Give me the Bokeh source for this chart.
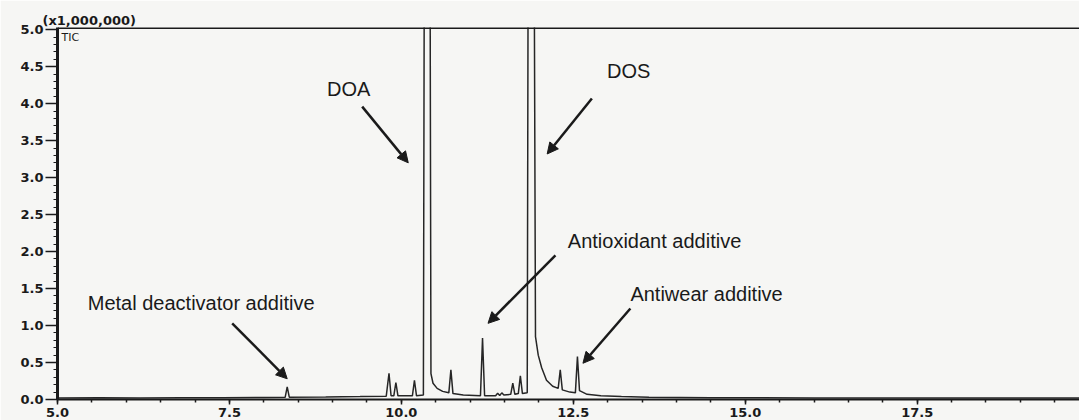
from bokeh.plotting import figure
from bokeh.models import FixedTicker, PrintfTickFormatter, Arrow, NormalHead, Label, Span
from bokeh.embed import file_html
from bokeh.resources import INLINE

# ---- data ----
time_min = [5.00, 5.60, 6.20, 6.80, 7.40, 8.00, 8.31, 8.34, 8.37, 8.90, 9.40, 9.78, 9.82, 9.85,
            9.89, 9.92, 9.95, 10.16, 10.19, 10.22, 10.32, 10.34, 10.41, 10.43, 10.46, 10.52,
            10.60, 10.69, 10.72, 10.75, 10.90, 11.15, 11.18, 11.21, 11.37, 11.40, 11.43, 11.46,
            11.49, 11.59, 11.62, 11.65, 11.70, 11.73, 11.76, 11.83, 11.85, 11.92, 11.95, 11.99,
            12.04, 12.11, 12.20, 12.28, 12.31, 12.34, 12.45, 12.53, 12.56, 12.59, 12.70, 12.90,
            13.20, 13.60, 14.50, 16.00, 18.00, 19.90]
tic_millions = [0.020, 0.022, 0.020, 0.024, 0.022, 0.028, 0.030, 0.17, 0.032, 0.035, 0.040, 0.045,
                0.355, 0.05, 0.05, 0.23, 0.05, 0.05, 0.26, 0.05, 0.06, 9.0, 9.0, 0.35, 0.22, 0.15,
                0.11, 0.09, 0.40, 0.08, 0.06, 0.05, 0.83, 0.05, 0.05, 0.085, 0.055, 0.09, 0.06,
                0.07, 0.22, 0.07, 0.08, 0.32, 0.08, 0.09, 9.0, 9.0, 0.85, 0.60, 0.43, 0.26, 0.18,
                0.15, 0.40, 0.13, 0.10, 0.09, 0.58, 0.12, 0.07, 0.05, 0.04, 0.03, 0.025, 0.02,
                0.02, 0.02]

x_ticks = [5.0, 7.5, 10.0, 12.5, 15.0, 17.5]
y_ticks = [0.0, 0.5, 1.0, 1.5, 2.0, 2.5, 3.0, 3.5, 4.0, 4.5, 5.0]

ann_text = ["Metal deactivator  additive", "DOA", "DOS", "Antioxidant additive", "Antiwear additive"]

# annotation placement (data units)
ann_text_x = [5.44, 8.92, 12.99, 12.42, 13.33]
ann_text_y = [1.30, 4.20, 4.44, 2.14, 1.42]
arrow_x0 = [7.54, 9.43, 12.77, 12.24, 13.33]
arrow_y0 = [1.03, 3.96, 4.07, 1.95, 1.23]
arrow_x1 = [8.34, 10.10, 12.12, 11.26, 12.64]
arrow_y1 = [0.28, 3.20, 3.32, 1.03, 0.49]

BG = "#f6f6f4"
INK = "#1a1a1a"

p = figure(width=1079, height=420, x_range=(5.0, 19.86), y_range=(0.0, 5.03),
           output_backend="svg", toolbar_location=None,
           min_border_left=57, min_border_top=27, min_border_right=0, min_border_bottom=21,
           background_fill_color=BG, border_fill_color=BG)
p.outline_line_color = None
p.grid.visible = False

p.title.text = "(x1,000,000)"
p.title.align = "left"
p.title.offset = -15
p.title.standoff = 0
p.title.text_font = "DejaVu Sans"
p.title.text_font_style = "bold"
p.title.text_font_size = "13px"
p.title.text_color = INK

p.line(time_min, tic_millions, line_color="#262626", line_width=1.5)

top = Span(location=5.03, dimension="width", line_color=INK, line_width=3)
p.add_layout(top)

# axes
for ax in (p.xaxis[0], p.yaxis[0]):
    ax.axis_line_color = INK
    ax.major_tick_line_color = INK
    ax.minor_tick_line_color = INK
    ax.major_label_text_font = "DejaVu Sans"
    ax.major_label_text_font_style = "bold"
    ax.major_label_text_font_size = "13px"
    ax.major_label_text_color = INK
    ax.major_tick_in = 0
    ax.minor_tick_in = 0

p.xaxis.ticker = FixedTicker(ticks=x_ticks, minor_ticks=[5.0 + 0.5 * i for i in range(31)])
p.xaxis.formatter = PrintfTickFormatter(format="%.1f")
p.xaxis.axis_line_width = 2
p.xaxis.major_tick_out = 5
p.xaxis.minor_tick_out = 3
p.xaxis.major_tick_line_width = 1.5
p.xaxis.minor_tick_line_width = 1.5
p.xaxis.major_label_standoff = 3

p.yaxis.ticker = FixedTicker(ticks=y_ticks, minor_ticks=[round(0.1 * i, 1) for i in range(51)])
p.yaxis.formatter = PrintfTickFormatter(format="%.1f")
p.yaxis.axis_line_width = 3
p.yaxis.major_tick_out = 12
p.yaxis.minor_tick_out = 4
p.yaxis.major_tick_line_width = 1.5
p.yaxis.minor_tick_line_width = 1.2
p.yaxis.major_label_standoff = 2

p.add_layout(Label(x=5.0, y=5.03, x_offset=4, y_offset=-3, text="TIC",
                   text_font="DejaVu Sans", text_font_size="11px",
                   text_color=INK, text_baseline="top"))

for t, tx, ty, x0, y0, x1, y1 in zip(ann_text, ann_text_x, ann_text_y,
                                      arrow_x0, arrow_y0, arrow_x1, arrow_y1):
    p.add_layout(Label(x=tx, y=ty, text=t, text_font="Liberation Sans", text_font_size="20px",
                       text_color=INK, text_baseline="middle", text_align="left"))
    p.add_layout(Arrow(x_start=x0, y_start=y0, x_end=x1, y_end=y1, line_color=INK, line_width=2.5,
                       end=NormalHead(size=11, fill_color=INK, line_color=INK)))

open("out.html", "w").write(file_html(p, INLINE))
